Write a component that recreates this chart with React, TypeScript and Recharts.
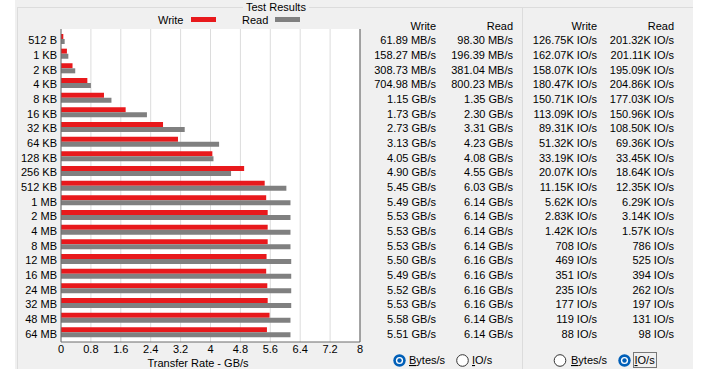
import { Bar, BarChart, CartesianGrid, Legend, XAxis, YAxis } from "recharts";

const sizes = [
  "512 B", "1 KB", "2 KB", "4 KB", "8 KB", "16 KB", "32 KB", "64 KB", "128 KB", "256 KB", "512 KB",
  "1 MB", "2 MB", "4 MB", "8 MB", "12 MB", "16 MB", "24 MB", "32 MB", "48 MB", "64 MB",
];

// transfer rates in GB/s
const writeGBs = [
  0.06189, 0.15827, 0.30873, 0.70498, 1.15, 1.73, 2.73, 3.13, 4.05, 4.9, 5.45,
  5.49, 5.53, 5.53, 5.53, 5.5, 5.49, 5.52, 5.53, 5.58, 5.51,
];
const readGBs = [
  0.0983, 0.19639, 0.38104, 0.80023, 1.35, 2.3, 3.31, 4.23, 4.08, 4.55, 6.03,
  6.14, 6.14, 6.14, 6.14, 6.16, 6.16, 6.16, 6.16, 6.14, 6.14,
];

// IO/s
const writeIops = [
  126750, 162070, 158070, 180470, 150710, 113090, 89310, 51320, 33190, 20070, 11150,
  5620, 2830, 1420, 708, 469, 351, 235, 177, 119, 88,
];
const readIops = [
  201320, 201110, 195090, 204860, 177030, 150960, 108500, 69360, 33450, 18640, 12350,
  6290, 3140, 1570, 786, 525, 394, 262, 197, 131, 98,
];

const seriesNames = ["Write", "Read"];
const xTicks = [0, 0.8, 1.6, 2.4, 3.2, 4, 4.8, 5.6, 6.4, 7.2, 8];

const data = sizes.map((size, i) => ({
  size,
  write: writeGBs[i],
  read: readGBs[i],
  writeIops: writeIops[i],
  readIops: readIops[i],
}));

const FONT = '"Liberation Sans", Arial, sans-serif';
const RED = "#e8191c";
const GRAY = "#808080";

function fmtRate(v: number) {
  return v < 1 ? `${(v * 1000).toFixed(2)} MB/s` : `${v.toFixed(2)} GB/s`;
}

function fmtIops(v: number) {
  return v >= 1000 ? `${(v / 1000).toFixed(2)}K IO/s` : `${v} IO/s`;
}

// right-hand table, one row per tick of the right axis
function TableTick(props: any) {
  const { x, y, index } = props;
  const row = data[index];
  if (!row) return null;
  const cols = [
    { dx: 76, text: fmtRate(row.write) },
    { dx: 153, text: fmtRate(row.read) },
    { dx: 237, text: fmtIops(row.writeIops) },
    { dx: 314, text: fmtIops(row.readIops) },
  ];
  return (
    <g>
      {cols.map((c, i) => (
        <text key={i} x={x + c.dx} y={y + 5} textAnchor="end" fontSize={11} fontFamily={FONT} fill="#000">
          {c.text}
        </text>
      ))}
    </g>
  );
}

function SizeTick(props: any) {
  const { x, y, payload } = props;
  return (
    <text x={x} y={y + 5} textAnchor="end" fontSize={11} fontFamily={FONT} fill="#000">
      {payload.value}
    </text>
  );
}

function LegendContent(props: any) {
  const items = [...(props.payload || [])].sort(
    (a: any, b: any) => seriesNames.indexOf(a.value) - seriesNames.indexOf(b.value)
  );
  return (
    <div style={{ position: "relative", height: 20, fontFamily: FONT, fontSize: 11 }}>
      {items.map((entry: any, i: number) => (
        <div key={entry.value} style={{ position: "absolute", left: 158 + i * 84, top: 14 }}>
          <span style={{ position: "absolute", left: 0, top: 0, lineHeight: "13px" }}>{entry.value}</span>
          <span
            style={{
              position: "absolute",
              left: 33,
              top: 3,
              width: 25,
              height: 5,
              background: entry.color,
            }}
          />
        </div>
      ))}
    </div>
  );
}

function Radio({ cx, cy, checked }: { cx: number; cy: number; checked: boolean }) {
  return checked ? (
    <g>
      <circle cx={cx} cy={cy} r={6.2} fill="#005fb8" />
      <circle cx={cx} cy={cy} r={3.6} fill="#fff" />
      <circle cx={cx} cy={cy} r={2.2} fill="#005fb8" />
    </g>
  ) : (
    <circle cx={cx} cy={cy} r={5.8} fill="#fff" stroke="#333" strokeWidth={1} />
  );
}

function RadioLabel({ x, first, rest }: { x: number; first: string; rest: string }) {
  return (
    <text x={x} y={364} fontSize={11} fontFamily={FONT} fill="#000">
      <tspan textDecoration="underline">{first}</tspan>
      <tspan>{rest}</tspan>
    </text>
  );
}

export default function App() {
  return (
    <div style={{ position: "absolute", left: 0, top: 0, width: 708, height: 369, background: "#fff", overflow: "hidden" }}>
      <div style={{ position: "absolute", left: 15, top: 0, width: 678, height: 369, background: "#f0f0f0" }} />
      <div
        style={{
          position: "absolute",
          left: 17,
          top: 7,
          width: 676,
          height: 362,
          borderTop: "1px solid #dcdcdc",
          borderLeft: "1px solid #dcdcdc",
          boxSizing: "border-box",
        }}
      />
      <div style={{ position: "absolute", left: 522, top: 7, width: 1, height: 362, background: "#dcdcdc" }} />
      <div
        style={{
          position: "absolute",
          left: 243,
          top: 1,
          padding: "0 3px",
          background: "#f0f0f0",
          fontFamily: FONT,
          fontSize: 11,
          lineHeight: "13px",
        }}
      >
        Test Results
      </div>

      <div style={{ position: "absolute", left: 0, top: 0 }}>
        <BarChart
          width={708}
          height={369}
          data={data}
          layout="vertical"
          margin={{ top: 9, right: 0, bottom: 0, left: 0 }}
          barSize={5}
          barGap={0}
        >
          <Legend
            verticalAlign="top"
            align="left"
            content={<LegendContent />}
            wrapperStyle={{ left: 0, top: 0, width: 708 }}
          />
          <CartesianGrid
            xAxisId="bottom"
            yAxisId="left"
            horizontal={false}
            stroke="#dcdcdc"
            fill="#fff"
            fillOpacity={1}
          />
          <XAxis
            xAxisId="bottom"
            type="number"
            domain={[0, 8]}
            ticks={xTicks}
            interval={0}
            height={27}
            tickLine={false}
            tickSize={0}
            tickMargin={3}
            axisLine={{ stroke: "#6a6a6a" }}
            tick={{ fontSize: 11, fontFamily: FONT, fill: "#000" }}
            label={{
              content: (p: any) => {
                const vb = p.viewBox || {};
                return (
                  <text x={vb.x + 137} y={vb.y + 25} textAnchor="middle" fontSize={11} fontFamily={FONT} fill="#000">
                    Transfer Rate - GB/s
                  </text>
                );
              },
            }}
          />
          <XAxis
            xAxisId="top"
            orientation="top"
            type="number"
            domain={[0, 8]}
            height={0}
            tick={false}
            tickLine={false}
            axisLine={{ stroke: "#6a6a6a" }}
          />
          <YAxis
            yAxisId="left"
            type="category"
            dataKey="size"
            width={61}
            interval={0}
            tickLine={false}
            tickSize={0}
            tickMargin={4}
            padding={{ top: 3, bottom: 2 }}
            axisLine={{ stroke: "#6a6a6a" }}
            tick={<SizeTick />}
          />
          <YAxis
            yAxisId="right"
            orientation="right"
            type="category"
            dataKey="size"
            width={348}
            interval={0}
            tickLine={false}
            tickSize={0}
            tickMargin={0}
            padding={{ top: 3, bottom: 2 }}
            axisLine={{ stroke: "#5a5a5a" }}
            tick={<TableTick />}
          />
          <Bar xAxisId="bottom" yAxisId="left" dataKey="write" name="Write" fill={RED} isAnimationActive={false} />
          <Bar xAxisId="bottom" yAxisId="left" dataKey="read" name="Read" fill={GRAY} isAnimationActive={false} />
        </BarChart>
      </div>

      <svg width={708} height={369} style={{ position: "absolute", left: 0, top: 0, pointerEvents: "none" }}>
        <text x={436} y={30} textAnchor="end" fontSize={11} fontFamily={FONT}>Write</text>
        <text x={513} y={30} textAnchor="end" fontSize={11} fontFamily={FONT}>Read</text>
        <text x={597} y={30} textAnchor="end" fontSize={11} fontFamily={FONT}>Write</text>
        <text x={674} y={30} textAnchor="end" fontSize={11} fontFamily={FONT}>Read</text>

        <Radio cx={399.5} cy={360.5} checked />
        <RadioLabel x={409} first="B" rest="ytes/s" />
        <Radio cx={462.5} cy={360.5} checked={false} />
        <RadioLabel x={472} first="I" rest="O/s" />

        <Radio cx={560} cy={360.5} checked={false} />
        <RadioLabel x={571} first="B" rest="ytes/s" />
        <Radio cx={624.5} cy={360.5} checked />
        <RadioLabel x={634.5} first="I" rest="O/s" />
        <rect x={633.5} y={352.5} width={23} height={15} fill="none" stroke="#000" strokeDasharray="1 1" />
      </svg>
    </div>
  );
}
